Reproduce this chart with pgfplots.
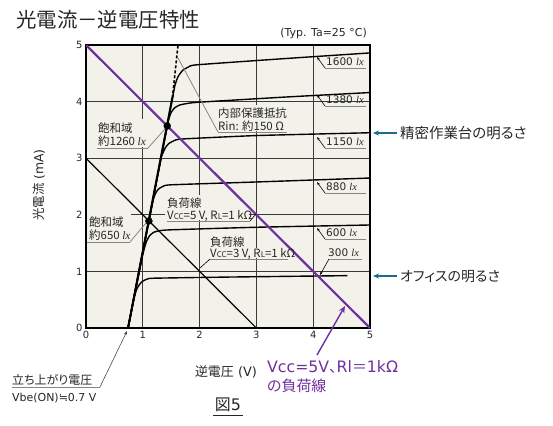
\documentclass[border=0pt]{standalone}
\usepackage{fontspec}
\setmainfont{Noto Sans CJK JP}[RawFeature=+palt]
\newfontfamily\titlefont{Noto Sans CJK JP}
\newfontfamily\dv{DejaVu Sans}
\newfontfamily\lxfont{Liberation Serif}
\usepackage{pgfplots}
\pgfplotsset{compat=1.18}
\usetikzlibrary{arrows.meta}
\definecolor{bg}{HTML}{F3F2EA}
\definecolor{gridc}{HTML}{3A3A3A}
\definecolor{purp}{HTML}{7030A0}
\definecolor{tealc}{HTML}{1F6A8A}
\definecolor{txt}{HTML}{262626}
\definecolor{lead}{HTML}{858585}
\newcommand{\lx}{{\lxfont\itshape lx}}
\newcommand{\fs}[1]{\fontsize{#1}{#1}\selectfont}
\begin{document}
\begin{tikzpicture}
\useasboundingbox (0,0) rectangle (553bp,-426bp);
\begin{axis}[
  at={(86bp,-328bp)}, anchor=south west,
  scale only axis, width=284bp, height=283bp,
  xmin=0, xmax=5, ymin=0, ymax=5,
  xtick={0,1,2,3,4,5}, ytick={0,1,2,3,4,5},
  grid=major, major grid style={draw=gridc, line width=0.9pt},
  major tick length=0pt,
  axis line style={draw=black, line width=1.2pt},
  axis background/.style={fill=bg},
  tick label style={font=\dv\fs{10}, text=txt},
  /pgf/number format/assume math mode=true,
]
\addplot[black, line width=1.2pt] coordinates {(0,3) (3,0)};
\addplot[black, line width=1.4pt, smooth, tension=0.3] coordinates {(0.74,0) (0.82,0.40) (0.86,0.58) (0.90,0.70) (0.95,0.78) (1.00,0.83) (1.08,0.865) (1.2,0.88) (2.5,0.90) (4.6,0.925)};
\addplot[black, line width=1.4pt, smooth, tension=0.3] coordinates {(0.74,0) (0.94,1.00) (0.99,1.25) (1.03,1.42) (1.07,1.54) (1.12,1.63) (1.19,1.69) (1.3,1.72) (1.5,1.735) (3,1.78) (5,1.82)};
\addplot[black, line width=1.4pt, smooth, tension=0.3] coordinates {(0.74,0) (1.13,2.00) (1.18,2.25) (1.22,2.37) (1.27,2.45) (1.35,2.50) (1.5,2.53) (3,2.58) (5,2.65)};
\addplot[black, line width=1.4pt, smooth, tension=0.3] coordinates {(0.74,0) (1.30,2.90) (1.35,3.08) (1.40,3.19) (1.46,3.26) (1.55,3.31) (1.7,3.34) (3,3.40) (5,3.45)};
\addplot[black, line width=1.4pt, smooth, tension=0.3] coordinates {(0.74,0) (1.42,3.50) (1.46,3.70) (1.50,3.81) (1.56,3.89) (1.65,3.94) (1.8,3.97) (2,3.99) (3.5,4.08) (5,4.16)};
\addplot[black, line width=1.4pt, smooth, tension=0.3] coordinates {(0.74,0) (1.53,4.10) (1.57,4.30) (1.62,4.44) (1.70,4.55) (1.80,4.61) (1.95,4.65) (3.5,4.76) (5,4.86)};
\addplot[black, line width=2pt] coordinates {(0.74,0) (1.53,4.12)};
\addplot[black, line width=1.6pt, dash pattern=on 3pt off 2pt] coordinates {(1.53,4.15) (1.62,5)};
\end{axis}
\begin{scope}[x=1bp,y=-1bp, every node/.style={text=txt, inner sep=0pt}]
% label backgrounds
\fill[bg] (96,119) rectangle (150,147);
\fill[bg] (87,211) rectangle (131,241);
\fill[bg] (216,105) rectangle (289,131);
\fill[bg] (165,195) rectangle (200,209);
\fill[bg] (165,209) rectangle (249,220);
\fill[bg] (208,234) rectangle (240,248);
\fill[bg] (208,248) rectangle (287,258);
\end{scope}
\begin{axis}[
  at={(86bp,-328bp)}, anchor=south west,
  scale only axis, width=284bp, height=283bp,
  xmin=0, xmax=5, ymin=0, ymax=5,
  hide axis,
]
\addplot[purp, line width=2.2pt] coordinates {(0,5) (5,0)};
\addplot[only marks, mark=*, mark size=3.5pt, black] coordinates {(1.43,3.57) (1.107,1.89)};
\end{axis}
\begin{scope}[x=1bp,y=-1bp, every node/.style={text=txt, inner sep=0pt}]
% title & notes
\node[anchor=west, font=\titlefont\fs{20.5}] at (16,20) {光電流－逆電圧特性};
\node[anchor=east, font=\dv\fs{11}] at (367,33) {(Typ. Ta=25 °C)};
\node[font=\fs{13}] at (226,372) {逆電圧{\dv\ (V)}};
\node[rotate=90, font=\fs{12.5}] at (39,185) {光電流{\dv\ (mA)}};
% lux labels
\foreach \yc/\lab in {57/1600, 95/1380, 137/1150, 182/880, 228/600}{
  \draw[lead, line width=0.9pt] (325,\yc+11) -- (366,\yc+11);
  \draw[black, line width=0.6pt, -{Stealth[length=3.5pt,width=2.5pt]}] (325,\yc+11) -- (317,\yc);
  \node[anchor=base west, font=\dv\fs{10.5}] at (326,\yc+8.5) {\lab\ \lx};
}
\draw[lead, line width=0.9pt] (329,259) -- (362,259);
\draw[black, line width=0.6pt, -{Stealth[length=3.5pt,width=2.5pt]}] (329,259) -- (320,275);
\node[anchor=base west, font=\dv\fs{10.5}] at (328,256.5) {300 \lx};
% saturation 1260
\node[anchor=base west, font=\fs{11.5}] at (98,132) {飽和域};
\node[anchor=base west, font=\fs{11.5}] at (98,145) {約1260 \lx};
\draw[lead, line width=0.9pt] (97,148) -- (148,148);
\draw[lead, line width=0.8pt] (148,148) -- (165,129);
% saturation 650
\node[anchor=base west, font=\fs{11.5}] at (89,226.5) {飽和域};
\node[anchor=base west, font=\fs{11.5}] at (89,239.5) {約650 \lx};
\draw[lead, line width=0.9pt] (87,242) -- (130,242);
\draw[lead, line width=0.8pt] (130,242) -- (146,223);
% internal resistance
\node[anchor=base west, font=\fs{11.5}] at (218,117.5) {内部保護抵抗};
\node[anchor=base west, font=\fs{11.5}] at (218,130) {Rin: 約150 Ω};
\draw[lead, line width=0.9pt] (218,132) -- (287,132);
\draw[lead, line width=0.8pt] (218,132) -- (178,58);
% load line 5V
\node[anchor=base west, font=\fs{11.5}] at (167,207.5) {負荷線};
\node[anchor=base west, font=\fs{11.5}] at (167,219) {V{\fs{8}CC}=5 V, R{\fs{8}L}=1 kΩ};
\draw[lead, line width=0.9pt] (167,221) -- (250,221);
\draw[black, line width=0.6pt] (250,221) -- (256,214);
% load line 3V
\node[anchor=base west, font=\fs{11.5}] at (210,246.5) {負荷線};
\node[anchor=base west, font=\fs{11.5}] at (210,257) {V{\fs{8}CC}=3 V, R{\fs{8}L}=1 kΩ};
\draw[lead, line width=0.9pt] (210,259) -- (288,259);
\draw[black, line width=0.6pt] (210,259) -- (200,268);
% right annotations
\draw[tealc, line width=1.3pt, -{Stealth[length=6pt,width=5pt]}] (397,133) -- (373,133);
\node[anchor=west, font=\fs{14.5}] at (400,133) {精密作業台の明るさ};
\draw[tealc, line width=1.3pt, -{Stealth[length=6pt,width=5pt]}] (397,276) -- (373,276);
\node[anchor=west, font=\fs{14}] at (400,277) {オフィスの明るさ};
% purple
\draw[purp, line width=1.4pt, -{Stealth[length=7pt,width=6pt]}] (317,355) -- (345,306);
\node[anchor=west, font=\fs{15}, text=purp] at (267,367) {{\dv\fs{15.8}Vcc=5V}、{\dv\fs{15.8}Rl}＝{\dv\fs{15.8}1kΩ}};
\node[anchor=west, font=\fs{15}, text=purp] at (267,386) {の負荷線};
% rise voltage
\node[anchor=base west, font=\fs{12}] at (12,384) {立ち上がり電圧};
\draw[lead, line width=0.9pt] (12,387) -- (100,387);
\draw[black!70, line width=0.6pt, -{Stealth[length=4pt,width=3pt]}] (100,387) -- (127,331);
\node[anchor=west, font=\dv\fs{11}] at (12,398) {Vbe(ON)≒0.7 V};
% figure number
\node[font=\fs{16}] at (228,405) {図{\dv 5}};
\draw[txt, line width=0.8pt] (213,415) -- (243,415);
\end{scope}
\end{tikzpicture}
\end{document}
